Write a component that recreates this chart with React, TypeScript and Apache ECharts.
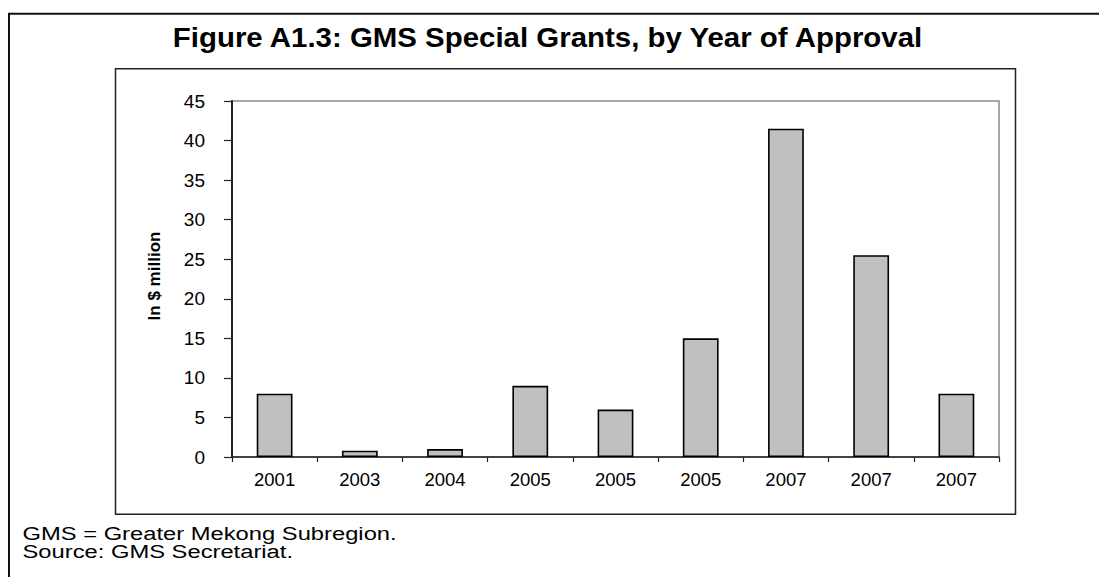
import React, { useEffect, useRef } from "react";
import * as echarts from "echarts";

const titleText = "Figure A1.3: GMS Special Grants, by Year of Approval";
const yAxisName = "In $ million";
const footerLines = ["GMS = Greater Mekong Subregion.", "Source: GMS Secretariat."];
const categories = ["2001", "2003", "2004", "2005", "2005", "2005", "2007", "2007", "2007"];
const grantValues = [8, 0.8, 1, 9, 6, 15, 41.5, 25.5, 8];

const FONT = "Arial, 'Liberation Sans', Helvetica, sans-serif";

export default function App() {
  const ref = useRef<HTMLDivElement>(null);

  useEffect(() => {
    if (!ref.current) return;
    const chart = echarts.init(ref.current, undefined, { renderer: "svg" });
    chart.setOption({
      animation: false,
      backgroundColor: "#ffffff",
      textStyle: { fontFamily: FONT },
      grid: {
        left: 232,
        top: 101,
        right: 100,
        bottom: 120,
        show: true,
        borderColor: "#8c8c8c",
        borderWidth: 1.5,
        backgroundColor: "transparent",
      },
      xAxis: {
        type: "category",
        data: categories,
        boundaryGap: true,
        axisLine: { show: true, lineStyle: { color: "#222", width: 1.5 } },
        axisTick: { show: true, alignWithLabel: false, length: 5, inside: false, lineStyle: { color: "#222", width: 1.2 } },
        axisLabel: { color: "#000", fontSize: 18.5, margin: 13, fontFamily: FONT, interval: 0 },
        splitLine: { show: false },
      },
      yAxis: {
        type: "value",
        min: 0,
        max: 45,
        interval: 5,
        name: yAxisName,
        nameLocation: "middle",
        nameGap: 69,
        nameTextStyle: { color: "#000", fontSize: 17, fontWeight: "bold", fontFamily: FONT, padding: [0, 0, 0, 6] },
        axisLine: { show: true, lineStyle: { color: "#111", width: 1.8 } },
        axisTick: { show: true, length: 8, lineStyle: { color: "#222", width: 1.2 } },
        axisLabel: { color: "#000", fontSize: 19, margin: 27, fontFamily: FONT },
        splitLine: { show: false },
      },
      series: [
        {
          type: "bar",
          data: grantValues,
          barWidth: "42%",
          itemStyle: { color: "#c0c0c0", borderColor: "#000", borderWidth: 1.6 },
        },
      ],
      graphic: [
        {
          type: "line",
          shape: { x1: 8, y1: 13.7, x2: 1099, y2: 13.7 },
          style: { stroke: "#111", lineWidth: 2 },
        },
        {
          type: "line",
          shape: { x1: 9, y1: 13, x2: 9, y2: 577 },
          style: { stroke: "#111", lineWidth: 2 },
        },
        {
          type: "rect",
          shape: { x: 115.5, y: 68.7, width: 900, height: 445.5 },
          style: { fill: "none", stroke: "#222", lineWidth: 1.5 },
        },
        {
          type: "text",
          x: 547.5,
          y: 37.5,
          scaleX: 1.09,
          style: {
            text: titleText,
            fill: "#000",
            font: `bold 27px ${FONT}`,
            align: "center",
            verticalAlign: "middle",
          },
        },
        {
          type: "text",
          x: 22.5,
          y: 534,
          scaleX: 1.32,
          style: {
            text: footerLines[0],
            fill: "#000",
            font: `18px ${FONT}`,
            align: "left",
            verticalAlign: "middle",
          },
        },
        {
          type: "text",
          x: 22.5,
          y: 551.5,
          scaleX: 1.32,
          style: {
            text: footerLines[1],
            fill: "#000",
            font: `18px ${FONT}`,
            align: "left",
            verticalAlign: "middle",
          },
        },
      ],
    });
    return () => {
      chart.dispose();
    };
  }, []);

  return (
    <div
      ref={ref}
      style={{ position: "absolute", left: 0, top: 0, width: 1099, height: 577, background: "#fff" }}
    />
  );
}
